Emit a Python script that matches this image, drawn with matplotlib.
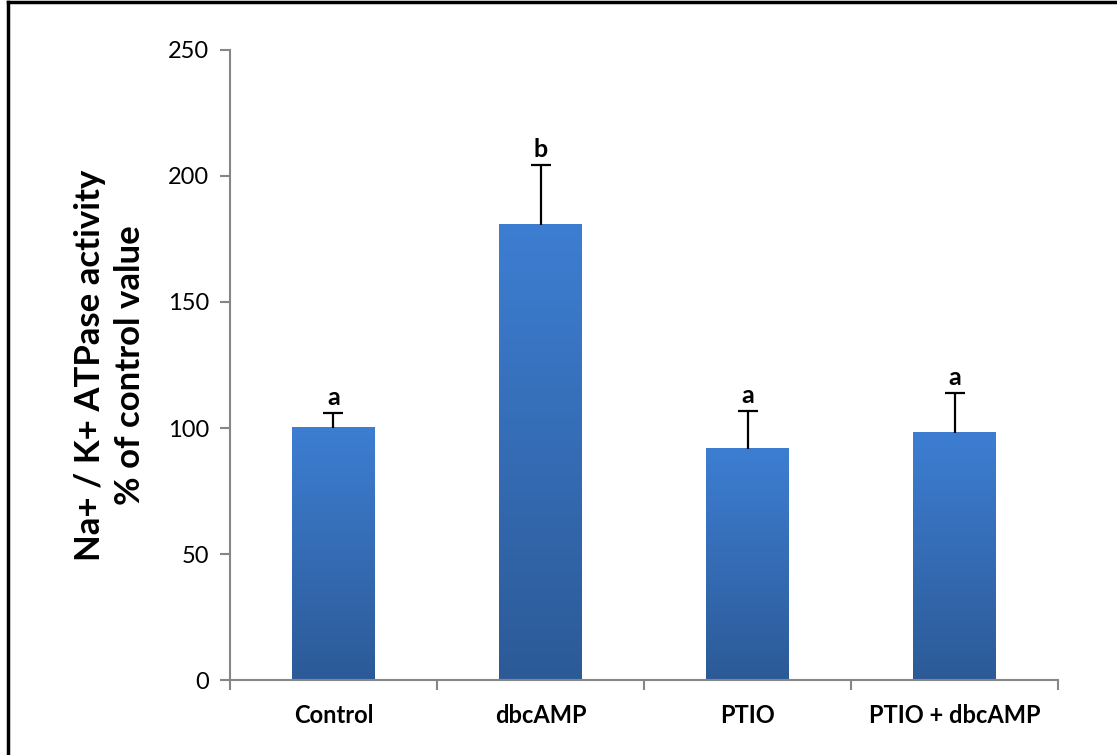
import matplotlib
matplotlib.use('Agg')
import matplotlib.pyplot as plt
import numpy as np
from matplotlib.colors import LinearSegmentedColormap
from matplotlib.lines import Line2D

plt.rcParams['font.family'] = ['Lato', 'DejaVu Sans']

groups = ['Control', 'dbcAMP', 'PTIO', 'PTIO + dbcAMP']
means = [100, 180.6, 91.7, 98.2]
errs = [6, 23.6, 15, 15.6]
letters = ['a', 'b', 'a', 'a']

fig = plt.figure(figsize=(11.17, 7.55), dpi=100)
ax = fig.add_axes([0.2059, 0.0993, 0.7413, 0.8345])

x = np.arange(len(groups))
bars = ax.bar(x, means, width=0.4, color='none', edgecolor='none', zorder=2)

# vertical gradient inside each bar
cmap = LinearSegmentedColormap.from_list('barfill', ['#2c5a97', '#3d7ed2'])
grad = np.linspace(0, 1, 256).reshape(-1, 1)
for b in bars:
    x0, y0 = b.get_x(), b.get_y()
    w, h = b.get_width(), b.get_height()
    ax.imshow(grad, cmap=cmap, origin='lower', aspect='auto',
              extent=(x0, x0 + w, y0, y0 + h), zorder=2)

eb = ax.errorbar(x, means, yerr=[np.zeros(len(errs)), errs], fmt='none',
                 ecolor='black', elinewidth=1.6, capsize=7, capthick=1.6, zorder=3)
# only the upper cap
eb[1][0].set_visible(False)

for xi, m, e, t in zip(x, means, errs, letters):
    ax.annotate(t, (xi, m + e), xytext=(0, 3), textcoords='offset points',
                ha='center', va='bottom', fontsize=18, fontweight='bold')

ax.set_xlim(-0.5, len(groups) - 0.5)
ax.set_ylim(0, 250)
ax.set_yticks(np.arange(0, 251, 50))
ax.set_xticks(x)
ax.set_xticklabels(groups, fontsize=17, fontweight='bold')
ax.set_xticks(np.arange(-0.5, len(groups), 1), minor=True)
ax.tick_params(axis='x', which='major', length=0, pad=17)
ax.tick_params(axis='x', which='minor', length=7, width=1.5, color='#868686', direction='out')
ax.tick_params(axis='y', length=7, width=1.5, color='#868686', direction='out', labelsize=17, pad=8)

for s in ['top', 'right']:
    ax.spines[s].set_visible(False)
for s in ['left', 'bottom']:
    ax.spines[s].set_color('#868686')
    ax.spines[s].set_linewidth(1.5)

ax.set_ylabel('Na+ / K+ ATPase activity\n% of control value', fontsize=25,
              fontweight='bold', labelpad=16, linespacing=1.3)

# frame lines of the original picture (left and top)
fig.add_artist(Line2D([0.0068, 0.0068], [0, 0.997], transform=fig.transFigure,
                      color='black', lw=2.5))
fig.add_artist(Line2D([0.0068, 1], [0.997, 0.997], transform=fig.transFigure,
                      color='black', lw=2.5))

fig.savefig('out.png', dpi=100)
